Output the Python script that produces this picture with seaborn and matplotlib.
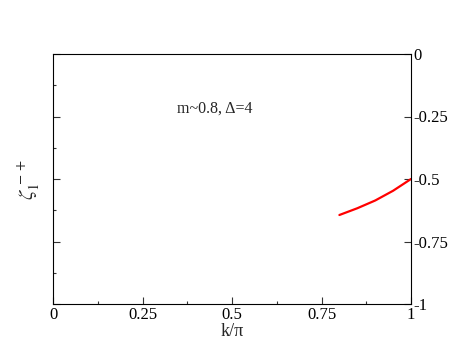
import numpy as np
import pandas as pd
import seaborn as sns
import matplotlib.pyplot as plt
from matplotlib.ticker import MultipleLocator

# Data
k_over_pi = [0.80, 0.85, 0.90, 0.95, 1.00]
zeta_vals = [-0.644, -0.617, -0.586, -0.547, -0.500]
x_ticks = [0, 0.25, 0.5, 0.75, 1]
x_tick_labels = ['0', '0.25', '0.5', '0.75', '1']
y_ticks = [0, -0.25, -0.5, -0.75, -1]
y_tick_labels = ['0', '-0.25', '-0.5', '-0.75', '-1']

df = pd.DataFrame({'k': k_over_pi, 'zeta': zeta_vals})

sns.set_theme(style="ticks")
plt.rcParams['font.family'] = ['Liberation Serif', 'DejaVu Serif']
plt.rcParams['mathtext.fontset'] = 'stix'

fig = plt.figure(figsize=(4.63, 3.58), dpi=100, facecolor='white')
ax = fig.add_axes([53 / 463, 1 - 304 / 358, 358 / 463, 250 / 358])
ax.set_facecolor('white')

sns.lineplot(data=df, x='k', y='zeta', color='#ff0000', linewidth=1.6, ax=ax)

ax.set_xlim(0, 1)
ax.set_ylim(-1, 0)
ax.set_xticks(x_ticks)
ax.set_xticklabels(x_tick_labels)
ax.set_yticks(y_ticks)
ax.set_yticklabels(y_tick_labels)
ax.xaxis.set_minor_locator(MultipleLocator(0.125))
ax.yaxis.set_minor_locator(MultipleLocator(0.125))

for s in ax.spines.values():
    s.set_linewidth(0.8)
    s.set_color('black')

ax.tick_params(axis='both', which='both', direction='in', color='#333333', width=0.8,
               labelsize=12, pad=2, labelcolor='black')
ax.tick_params(axis='both', which='major', length=5)
ax.tick_params(axis='both', which='minor', length=2.5)
ax.tick_params(axis='y', left=True, right=True, labelleft=False, labelright=True)
ax.tick_params(axis='x', top=False, bottom=True)

ax.set_xlabel('k/π', fontsize=13, labelpad=0)
ax.set_ylabel(r'$\zeta_1^{\,-+}$', fontsize=15, labelpad=6)

ax.text(0.452, -0.22, 'm~0.8, Δ=4', fontsize=11.5, ha='center', va='center')

plt.savefig('out.png', dpi=100, facecolor='white')
